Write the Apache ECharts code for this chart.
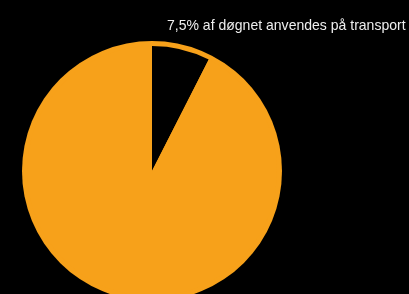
<!DOCTYPE html>
<html>
<head>
<meta charset="utf-8">
<script src="https://cdn.jsdelivr.net/npm/echarts@6/dist/echarts.min.js"></script>
<style>
  html, body { margin: 0; padding: 0; background: #000; }
  #container { width: 409px; height: 294px; }
</style>
</head>
<body>
<div id="container"></div>
<script>
// Data
var categories = ['Transport', 'Resten af døgnet'];
var values = [7.5, 92.5];
var labelText = '7,5% af døgnet anvendes på transport';

var orange = '#F7A11A';

var dom = document.getElementById('container');
var myChart = echarts.init(dom, null, { renderer: 'canvas' });

var option = {
    backgroundColor: '#000',
    animation: false,
    graphic: [
        {
            // slightly condensed label, like the original
            type: 'text',
            x: 167,
            y: 26,
            scaleX: 0.935,
            silent: true,
            style: {
                text: labelText,
                fill: '#eeeeee',
                font: '15px "Liberation Sans", Arial, sans-serif',
                verticalAlign: 'middle'
            }
        }
    ],
    series: [
        {
            // orange disc behind, gives the rim above the black slice
            type: 'pie',
            center: [152, 171],
            radius: [0, 130],
            silent: true,
            label: { show: false },
            labelLine: { show: false },
            data: [{ value: 1, name: 'bg', itemStyle: { color: orange } }]
        },
        {
            type: 'pie',
            center: [152, 171],
            radius: [0, 125],
            startAngle: 90,
            clockwise: true,
            label: { show: false },
            labelLine: { show: false },
            data: categories.map(function (c, i) {
                return { name: c, value: values[i], itemStyle: { color: i === 0 ? '#000' : orange } };
            })
        }
    ]
};

myChart.setOption(option);
</script>
</body>
</html>
